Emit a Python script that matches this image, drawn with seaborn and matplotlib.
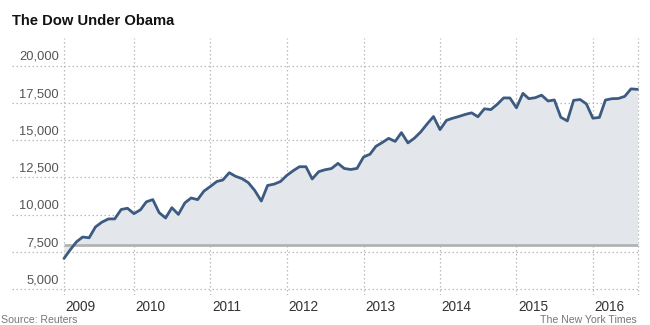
import matplotlib
matplotlib.use("Agg")
import matplotlib.pyplot as plt
import matplotlib.dates as mdates
import numpy as np
import pandas as pd
import seaborn as sns

# Dow Jones Industrial Average, monthly closes (Feb 2009 - Aug 2016)
closes_2009 = [7063, 7609, 8168, 8500, 8447, 9172, 9496, 9712, 9713, 10345, 10428]
closes_2010 = [10067, 10325, 10857, 11009, 10137, 9774, 10466, 10015, 10788, 11118, 11006, 11578]
closes_2011 = [11892, 12226, 12320, 12811, 12570, 12414, 12143, 11614, 10913, 11955, 12046, 12218]
closes_2012 = [12633, 12952, 13212, 13214, 12393, 12880, 13009, 13091, 13437, 13096, 13026, 13104]
closes_2013 = [13861, 14054, 14579, 14840, 15116, 14910, 15500, 14810, 15130, 15546, 16086, 16577]
closes_2014 = [15699, 16322, 16458, 16581, 16717, 16827, 16563, 17098, 17043, 17391, 17828, 17823]
closes_2015 = [17165, 18133, 17776, 17841, 18011, 17620, 17690, 16528, 16285, 17664, 17720, 17425]
closes_2016 = [16466, 16517, 17685, 17774, 17787, 17930, 18432, 18401]

closes = (closes_2009 + closes_2010 + closes_2011 + closes_2012 +
          closes_2013 + closes_2014 + closes_2015 + closes_2016)
months = pd.date_range("2009-02-01", periods=len(closes), freq="MS")

inauguration_close = 7949
y_ticks = [5000, 7500, 10000, 12500, 15000, 17500, 20000]
year_labels = ["2009", "2010", "2011", "2012", "2013", "2014", "2015", "2016"]

df = pd.DataFrame({"date": months, "close": closes})

sns.set_style("white")
plt.rcParams["font.family"] = ["Liberation Sans", "DejaVu Sans"]

W, H = 650, 325
fig = plt.figure(figsize=(W / 100, H / 100), dpi=100)
ax_left, ax_right, ax_top, ax_bottom = 12, 640, 38, 295
ax = fig.add_axes([ax_left / W, 1 - ax_bottom / H,
                   (ax_right - ax_left) / W, (ax_bottom - ax_top) / H])

start = mdates.date2num(months[0])
end = mdates.date2num(months[-1])
x0_px, x1_px = 64, 637.5
px_per_day = (x1_px - x0_px) / (end - start)
ax.set_xlim(start - (x0_px - ax_left) / px_per_day,
            end + (ax_right - x1_px) / px_per_day)

y5000_px, y20000_px = 289.2, 65.5
val_per_px = 15000 / (y5000_px - y20000_px)
ax.set_ylim(5000 - (ax_bottom - y5000_px) * val_per_px,
            5000 + (y5000_px - ax_top) * val_per_px)

grid_kw = dict(color="#b8b8b8", lw=0.9, linestyle=(0, (1.2, 2.0)), zorder=1)

# horizontal gridlines with labels sitting just above them
label_x = (59 - ax_left) / (ax_right - ax_left)
ytrans = ax.get_yaxis_transform()
for v in y_ticks:
    ax.axhline(v, **grid_kw)
    ax.text(label_x, v + 180, f"{v:,}", transform=ytrans,
            ha="right", va="bottom", fontsize=9.3, color="#555555")

# vertical gridlines: data start, each January, data end
year_starts = [months[0]] + [pd.Timestamp(f"{y}-01-01") for y in range(2010, 2017)]
for d in year_starts + [months[-1]]:
    ax.axvline(mdates.date2num(d), **grid_kw)

# fill between the inauguration-day level and the monthly closes
ax.fill_between(mdates.date2num(df["date"]), inauguration_close, df["close"],
                color="#e3e7ec", lw=0, zorder=2)
ax.hlines(inauguration_close, start, end, color="#b3b3b3", lw=2.0, zorder=3)

sns.lineplot(data=df, x="date", y="close", ax=ax, color="#3d5a80",
             lw=2.0, zorder=4)

ax.set_xlabel("")
ax.set_ylabel("")
ax.set_xticks([])
ax.set_yticks([])
for s in ax.spines.values():
    s.set_visible(False)
ax.patch.set_alpha(0)

# year labels, left-aligned at each gridline
year_y = -(300 - ax_bottom) / (ax_bottom - ax_top)
xtrans = ax.get_xaxis_transform()
for d, lab in zip(year_starts, year_labels):
    ax.text(mdates.date2num(d) + 1.5 / px_per_day, year_y, lab,
            transform=xtrans, ha="left", va="top",
            fontsize=9.8, color="#333333")

fig.text(12 / W, 1 - 21 / H, "The Dow Under Obama", fontsize=10.6,
         fontweight="bold", ha="left", va="center", color="#111111")
fig.text(1 / W, 1 - 320 / H, "Source: Reuters", fontsize=7.6,
         ha="left", va="center", color="#777777")
fig.text(637 / W, 1 - 320 / H, "The New York Times", fontsize=7.6,
         ha="right", va="center", color="#777777")

fig.savefig("out.png", dpi=100)
